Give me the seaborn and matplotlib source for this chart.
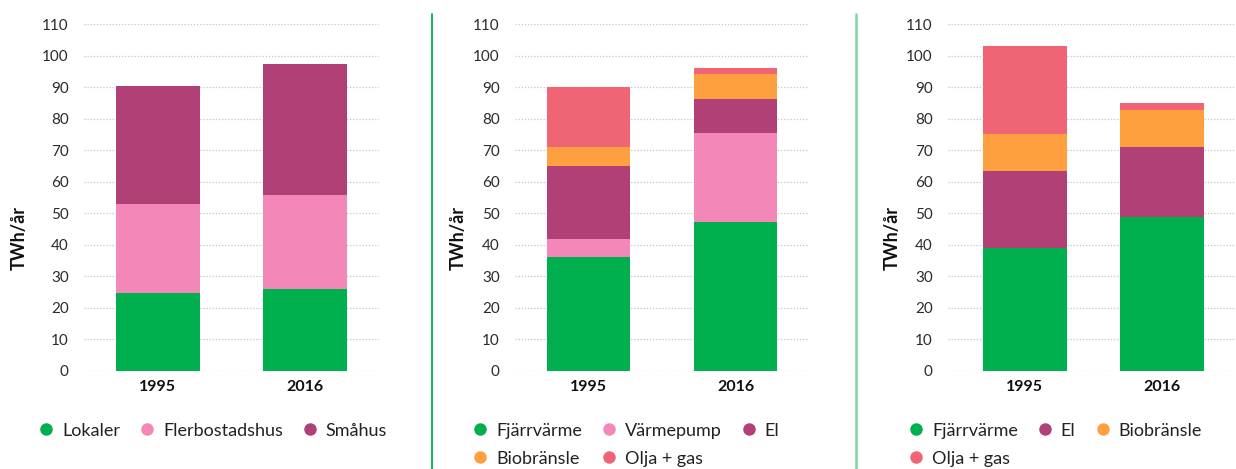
import matplotlib
matplotlib.use("Agg")
import matplotlib.pyplot as plt
import numpy as np
import seaborn as sns
from matplotlib.lines import Line2D

# ---- data (TWh/år) ----
years = ["1995", "2016"]

# panel 1: by building type
types = ["Lokaler", "Flerbostadshus", "Småhus"]
lokaler = [24.6, 25.9]
flerbostadshus = [28.3, 29.9]
smahus = [37.6, 41.7]

# panel 2: heating in homes
sources_2 = ["Fjärrvärme", "Värmepump", "El", "Biobränsle", "Olja + gas"]
fjarrvarme_2 = [36.1, 47.3]
varmepump_2 = [5.7, 28.2]
el_2 = [23.2, 10.8]
biobransle_2 = [6.0, 8.0]
olja_gas_2 = [19.1, 1.9]

# panel 3: heating in premises
sources_3 = ["Fjärrvärme", "El", "Biobränsle", "Olja + gas"]
fjarrvarme_3 = [39.0, 48.8]
el_3 = [24.4, 22.2]
biobransle_3 = [11.8, 11.8]
olja_gas_3 = [28.0, 2.3]

yticks = list(range(0, 111, 10))

GREEN = "#00B04F"
PINK = "#F388B8"
PURPLE = "#B04076"
ORANGE = "#FFA040"
CORAL = "#F06575"

sns.set_theme(style="white")
plt.rcParams["font.family"] = ["Lato", "DejaVu Sans"]

W, H = 1236, 469
fig = plt.figure(figsize=(W / 100, H / 100), dpi=100)


def px_axes(left, right, bottom=370.5, top=24.5):
    return fig.add_axes([left / W, (H - bottom) / H, (right - left) / W, (bottom - top) / H])


def stacked(ax, series, colors, width, xlim):
    cum = np.cumsum(np.array(series), axis=0)
    # draw tallest cumulative first so lower layers sit on top
    for vals, c in reversed(list(zip(cum, colors))):
        sns.barplot(x=years, y=vals, color=c, width=width, saturation=1,
                    linewidth=0, ax=ax, zorder=2)
    ax.set_xlim(*xlim)
    ax.set_ylim(0, 110)
    ax.set_yticks(yticks)
    ax.set_xlabel("")
    ax.set_ylabel("")
    ax.grid(axis="y", linestyle=(0, (1, 1.5)), color="#c4c4c4", linewidth=0.9, zorder=0)
    ax.set_axisbelow(True)
    for s in ax.spines.values():
        s.set_visible(False)
    ax.tick_params(axis="y", length=0, pad=11, labelsize=11, labelcolor="#2b2b2b")
    ax.tick_params(axis="x", length=0, pad=7, labelsize=11.5, labelcolor="#111111")
    for t in ax.get_xticklabels():
        t.set_fontweight("bold")


def legend(ax, labels, colors, x_left, ncol=3):
    handles = [Line2D([], [], marker="o", linestyle="", markersize=9,
                      markerfacecolor=c, markeredgewidth=0) for c in colors]
    # reorder so entries fill row by row
    n = len(labels)
    nrows = int(np.ceil(n / ncol))
    order = []
    for col in range(ncol):
        for row in range(nrows):
            i = row * ncol + col
            if i < n:
                order.append(i)
    ax.legend([handles[i] for i in order], [labels[i] for i in order],
              ncol=ncol, loc="upper left", frameon=False,
              bbox_to_anchor=(x_left / W, (H - 422.5) / H),
              bbox_transform=fig.transFigure, borderpad=0, borderaxespad=0,
              handlelength=1.0, handletextpad=0.38, columnspacing=1.0,
              labelspacing=0.67, fontsize=13, labelcolor="#222222")


ax1 = px_axes(84, 379)
stacked(ax1, [lokaler, flerbostadshus, smahus], [GREEN, PINK, PURPLE], 0.57, (-0.5, 1.5))
legend(ax1, types, [GREEN, PINK, PURPLE], 37)

ax2 = px_axes(515, 809)
stacked(ax2, [fjarrvarme_2, varmepump_2, el_2, biobransle_2, olja_gas_2],
        [GREEN, PINK, PURPLE, ORANGE, CORAL], 0.57, (-0.5, 1.5))
legend(ax2, sources_2, [GREEN, PINK, PURPLE, ORANGE, CORAL], 471)

ax3 = px_axes(948, 1236)
stacked(ax3, [fjarrvarme_3, el_3, biobransle_3, olja_gas_3],
        [GREEN, PURPLE, ORANGE, CORAL], 0.613, (-0.56, 1.54))
legend(ax3, sources_3, [GREEN, PURPLE, ORANGE, CORAL], 907)

# y labels
for xc in (19, 458, 892):
    fig.text(xc / W, (H - 238) / H, "TWh/år", rotation=90, ha="center", va="center",
             fontsize=13, fontweight="bold", color="#111111")

# separators between panels
fig.add_artist(Line2D([432 / W, 432 / W], [0, (H - 14) / H], color="#00B050", linewidth=1.3))
fig.add_artist(Line2D([856 / W, 856 / W], [0, (H - 14) / H], color="#7DD9A0", linewidth=1.8))

fig.savefig("out.png", dpi=100, facecolor="white")
